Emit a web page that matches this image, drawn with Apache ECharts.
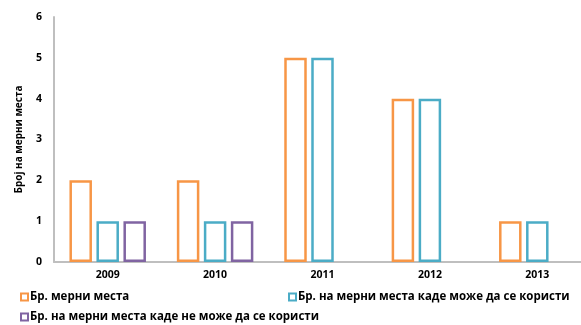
<!DOCTYPE html>
<html>
<head>
<meta charset="utf-8">
<script src="https://cdn.jsdelivr.net/npm/echarts@6/dist/echarts.min.js"></script>
<style>
  html, body { margin: 0; padding: 0; background: #fff; }
  #chart { width: 581px; height: 325px; }
</style>
</head>
<body>
<div id="chart"></div>
<script>
// Measuring points per year
const years = ['2009', '2010', '2011', '2012', '2013'];
const seriesNames = [
  'Бр. мерни места',
  'Бр. на мерни места каде може да се користи',
  'Бр. на мерни места каде не може да се користи'
];
const totalPoints = [2, 2, 5, 4, 1];
const usablePoints = [1, 1, 5, 4, 1];
const unusablePoints = [1, 1, null, null, null];
const yTicks = [0, 1, 2, 3, 4, 5, 6];
const axisTitle = 'Број на мерни места';

const colors = ['#F79646', '#4BACC6', '#8064A2'];
const FONT = '"Open Sans", "Noto Sans", sans-serif';

function outlinedBar(name, data, color) {
  return {
    name: name,
    type: 'bar',
    data: data,
    barWidth: 22.5,
    barGap: '20%',
    itemStyle: { color: '#ffffff', borderColor: color, borderWidth: 2.5, borderRadius: 0, borderJoin: 'miter' }
  };
}

const legendBase = {
  icon: 'rect',
  itemWidth: 7,
  itemHeight: 7,
  itemGap: 4,
  itemStyle: { borderWidth: 2 },
  textStyle: { fontFamily: FONT, fontWeight: 'bold', fontSize: 11.5, color: '#000', padding: [0, 0, 0, -3] },
  padding: 0
};

const chart = echarts.init(document.getElementById('chart'), null, { renderer: 'canvas' });
chart.setOption({
  animation: false,
  backgroundColor: '#fff',
  color: colors,
  legend: [
    Object.assign({}, legendBase, { data: [seriesNames[0]], left: 20, top: 291 }),
    Object.assign({}, legendBase, { data: [seriesNames[1]], left: 288, top: 291 }),
    Object.assign({}, legendBase, { data: [seriesNames[2]], left: 20, top: 311 })
  ],
  // the plot runs slightly past the right edge of the canvas
  grid: { left: 54, width: 537, top: 17, height: 245, outerBoundsMode: 'none', containLabel: false },
  xAxis: {
    type: 'category',
    data: years,
    axisLine: { lineStyle: { color: '#BFBFBF', width: 2 } },
    axisTick: { show: false },
    axisLabel: { fontFamily: FONT, fontWeight: 'bold', fontSize: 10.5, color: '#000', margin: 8 }
  },
  yAxis: {
    type: 'value',
    min: yTicks[0],
    max: yTicks[yTicks.length - 1],
    interval: 1,
    name: axisTitle,
    nameLocation: 'middle',
    nameGap: 30,
    nameRotate: 90,
    nameTextStyle: { fontFamily: FONT, fontWeight: 'bold', fontSize: 10, color: '#000' },
    axisLine: { show: true, lineStyle: { color: '#BFBFBF', width: 2 } },
    axisTick: { show: false },
    splitLine: { show: false },
    axisLabel: { fontFamily: FONT, fontWeight: 'bold', fontSize: 10.5, color: '#000', margin: 12 }
  },
  series: [
    outlinedBar(seriesNames[0], totalPoints, colors[0]),
    outlinedBar(seriesNames[1], usablePoints, colors[1]),
    outlinedBar(seriesNames[2], unusablePoints, colors[2])
  ]
});
</script>
</body>
</html>
